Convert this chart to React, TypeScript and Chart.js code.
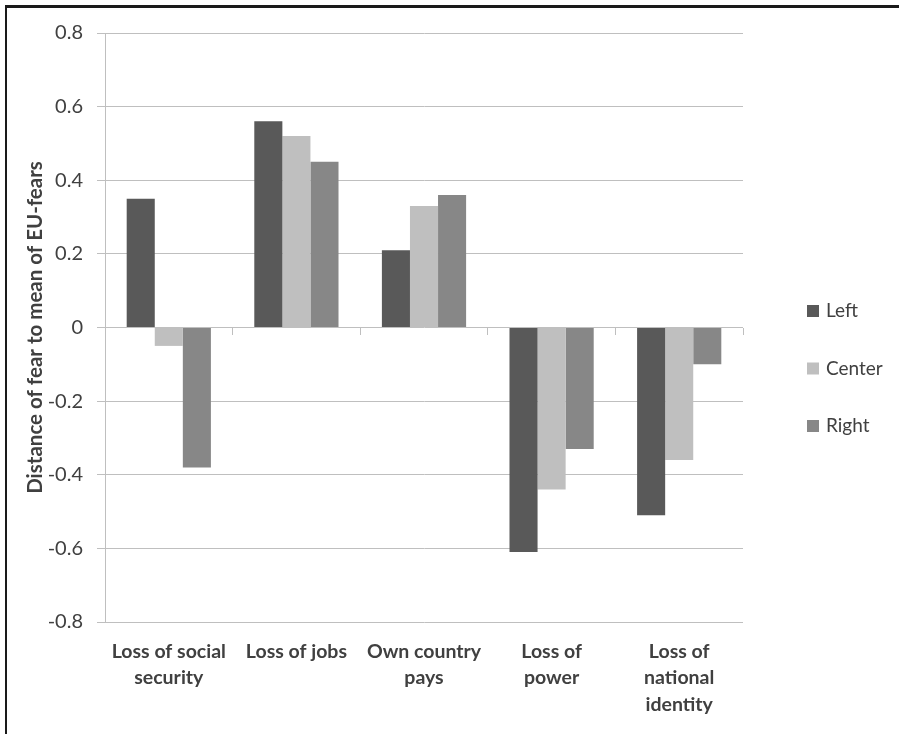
import React, { useEffect, useRef } from "react";
import { Chart, registerables } from "chart.js";

Chart.register(...registerables);

const categories: string[][] = [
  ["Loss of social", "security"],
  ["Loss of jobs"],
  ["Own country", "pays"],
  ["Loss of", "power"],
  ["Loss of", "national", "identity"],
];
const seriesNames = ["Left", "Center", "Right"];
const leftValues = [0.35, 0.56, 0.21, -0.61, -0.51];
const centerValues = [-0.05, 0.52, 0.33, -0.44, -0.36];
const rightValues = [-0.38, 0.45, 0.36, -0.33, -0.1];
const seriesColors = ["#595959", "#bfbfbf", "#878787"];
const yMin = -0.8;
const yMax = 0.8;
const yStep = 0.2;
const yTitle = "Distance of fear to mean of EU-fears";

const FONT = "Lato";
const TEXT = "#404040";
const GRID = "#bfbfbf";

const customLegend = {
  id: "customLegend",
  afterDraw(chart: any) {
    const { ctx, chartArea } = chart;
    const ds = chart.data.datasets;
    const midY = (chartArea.top + chartArea.bottom) / 2 + 41;
    ctx.save();
    ds.forEach((d: any, i: number) => {
      const y = midY + (i - (ds.length - 1) / 2) * 57.5;
      ctx.fillStyle = d.backgroundColor;
      ctx.fillRect(chartArea.right + 64, y - 6, 12, 12);
      ctx.fillStyle = TEXT;
      ctx.font = `19px ${FONT}`;
      ctx.textBaseline = "middle";
      ctx.textAlign = "left";
      ctx.fillText(d.label, chartArea.right + 83, y);
    });
    ctx.restore();
  },
};

export default function App() {
  const ref = useRef<HTMLCanvasElement>(null);
  useEffect(() => {
    if (!ref.current) return;
    const values = [leftValues, centerValues, rightValues];
    const chart = new Chart(ref.current, {
      type: "bar",
      data: {
        labels: categories,
        datasets: seriesNames.map((name, i) => ({
          label: name,
          data: values[i],
          backgroundColor: seriesColors[i],
          borderWidth: 0,
          categoryPercentage: 0.66,
          barPercentage: 1,
        })),
      },
      options: {
        responsive: false,
        animation: false,
        layout: { padding: { top: 33, right: 156, bottom: 0, left: 0 } },
        plugins: {
          legend: { display: false },
          tooltip: { enabled: false },
        },
        scales: {
          x: {
            type: "category",
            offset: true,
            grid: { display: false, offset: true },
            border: { display: false },
            ticks: {
              color: TEXT,
              font: { family: FONT, size: 19.5, weight: "bold", lineHeight: 1.37 },
              padding: 8,
              maxRotation: 0,
              autoSkip: false,
            },
            afterFit: (s: any) => {
              s.height = 112;
            },
          },
          x2: {
            type: "category",
            position: { y: 0 },
            offset: true,
            grid: {
              display: true,
              offset: true,
              drawOnChartArea: false,
              drawTicks: true,
              tickLength: 7,
              color: GRID,
            },
            border: { display: false },
            ticks: { display: false },
          },
          y: {
            min: yMin,
            max: yMax,
            grid: { color: GRID, tickLength: 8, drawTicks: true },
            border: { color: GRID },
            ticks: {
              stepSize: yStep,
              color: TEXT,
              padding: 14,
              font: { family: FONT, size: 20 },
              callback: (v: any) => {
                const n = Number(v);
                if (Math.abs(n) < 1e-9) return "0";
                return n.toFixed(1);
              },
            },
            title: {
              display: true,
              text: yTitle,
              color: TEXT,
              font: { family: FONT, size: 20.5, weight: "bold" },
              padding: { top: 22.7, bottom: 0 },
            },
            afterFit: (s: any) => {
              s.width = 105;
            },
          },
        },
      },
      plugins: [customLegend],
    } as any);
    return () => chart.destroy();
  }, []);

  return (
    <div
      style={{
        position: "fixed",
        left: 0,
        top: 0,
        width: 899,
        height: 734,
        background: "#fff",
      }}
    >
      <canvas ref={ref} width={899} height={734} style={{ display: "block" }} />
      <div
        style={{
          position: "absolute",
          left: 5,
          top: 5,
          right: 0,
          bottom: 0,
          borderTop: "3px solid #1a1a1a",
          borderLeft: "2px solid #1a1a1a",
          pointerEvents: "none",
        }}
      />
    </div>
  );
}
